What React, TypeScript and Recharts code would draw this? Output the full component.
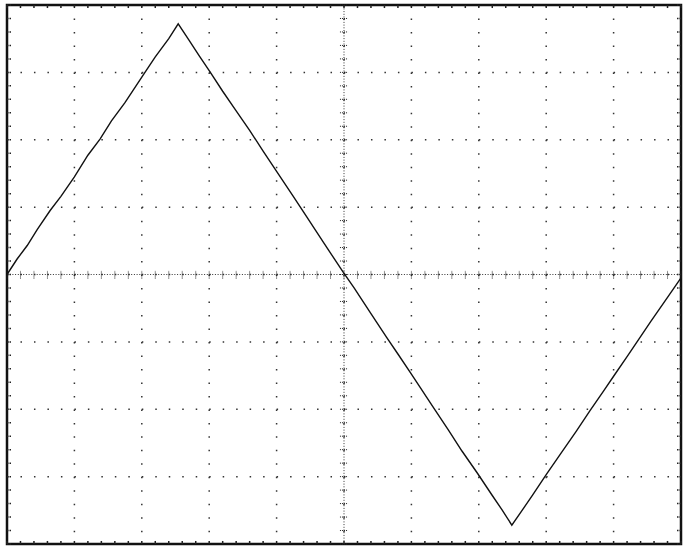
import React from 'react';
import {
  LineChart, Line, XAxis, YAxis, CartesianGrid, ReferenceLine, ReferenceArea
} from 'recharts';

// horizontal position in divisions (0..10)
const divX = [
  0, 0.15, 0.3, 0.45, 0.64, 0.8, 1.0, 1.2, 1.38, 1.55, 1.75, 2.0, 2.2, 2.4, 2.54,
  2.7, 2.85, 3.01, 3.2, 3.4, 3.6, 3.8, 4.0, 4.24, 4.45, 4.7, 4.99, 5.15, 5.4, 5.63,
  5.8, 6.0, 6.35, 6.55, 6.75, 6.98, 7.2, 7.35, 7.49, 7.65, 7.8, 8.0, 8.2, 8.45,
  8.65, 8.85, 9.0, 9.2, 9.34, 9.55, 9.8, 10.0,
];
// vertical position in divisions (-4..4)
const divY = [
  0, 0.23, 0.43, 0.67, 0.95, 1.16, 1.45, 1.77, 2.01, 2.28, 2.55, 2.93, 3.23, 3.5, 3.72,
  3.48, 3.25, 3.01, 2.72, 2.43, 2.14, 1.83, 1.53, 1.17, 0.85, 0.47, 0.03, -0.2, -0.58, -0.93,
  -1.18, -1.48, -2.01, -2.31, -2.62, -2.95, -3.28, -3.5, -3.72, -3.49, -3.27, -2.97,
  -2.68, -2.32, -2.02, -1.73, -1.51, -1.22, -1.01, -0.7, -0.34, -0.05,
];

const majorX = [0, 1, 2, 3, 4, 5, 6, 7, 8, 9, 10];
const majorY = [-4, -3, -2, -1, 0, 1, 2, 3, 4];

const data = divX.map((x, i) => ({ x, v: divY[i] }));

// minor graticule marks, 5 per division
const minorX = Array.from({ length: 51 }, (_, i) => +(i * 0.2).toFixed(2));
const minorY = Array.from({ length: 41 }, (_, i) => +(-4 + i * 0.2).toFixed(2));

const tickColor = '#222';

const App = () => {
  return (
    <div style={{ position: 'absolute', left: 0, top: 0, background: '#fff' }}>
      <LineChart
        width={686}
        height={547}
        data={data}
        margin={{ top: 5, right: 5, bottom: 3, left: 7 }}
      >
        <XAxis dataKey="x" type="number" domain={[0, 10]} ticks={majorX} hide />
        <YAxis type="number" domain={[-4, 4]} ticks={majorY} hide />
        <CartesianGrid stroke="#333" strokeWidth={1.5} strokeDasharray="1.5 11.98" />

        {/* centre axes, densely dotted */}
        <ReferenceLine y={0} stroke="#333" strokeWidth={1} strokeDasharray="1 1.7" />
        <ReferenceLine x={5} stroke="#333" strokeWidth={1} strokeDasharray="1 1.7" />

        {minorX.map((t) => (
          <ReferenceLine key={'cx' + t} segment={[{ x: t, y: -0.06 }, { x: t, y: 0.06 }]}
            stroke={tickColor} strokeWidth={1} strokeDasharray="1 1" />
        ))}
        {minorY.map((t) => (
          <ReferenceLine key={'cy' + t} segment={[{ x: 4.94, y: t }, { x: 5.06, y: t }]}
            stroke={tickColor} strokeWidth={1} strokeDasharray="1 1" />
        ))}

        {/* border ticks */}
        {minorX.map((t) => (
          <ReferenceLine key={'tt' + t} segment={[{ x: t, y: 4 }, { x: t, y: 3.955 }]}
            stroke={tickColor} strokeWidth={1.5} />
        ))}
        {minorX.map((t) => (
          <ReferenceLine key={'bt' + t} segment={[{ x: t, y: -4 }, { x: t, y: -3.955 }]}
            stroke={tickColor} strokeWidth={1.5} />
        ))}
        {minorY.map((t) => (
          <ReferenceLine key={'lt' + t} segment={[{ x: 0, y: t }, { x: 0.07, y: t }]}
            stroke={tickColor} strokeWidth={1.5} strokeDasharray="1.5 1" />
        ))}
        {minorY.map((t) => (
          <ReferenceLine key={'rt' + t} segment={[{ x: 10, y: t }, { x: 9.93, y: t }]}
            stroke={tickColor} strokeWidth={1.5} strokeDasharray="1.5 1" />
        ))}

        <ReferenceArea x1={0} x2={10} y1={-4} y2={4} fill="none" fillOpacity={0}
          stroke="#111" strokeWidth={2.5} />

        <Line
          type="linear"
          dataKey="v"
          stroke="#111"
          strokeWidth={1.4}
          dot={false}
          isAnimationActive={false}
        />
      </LineChart>
    </div>
  );
};

export default App;
